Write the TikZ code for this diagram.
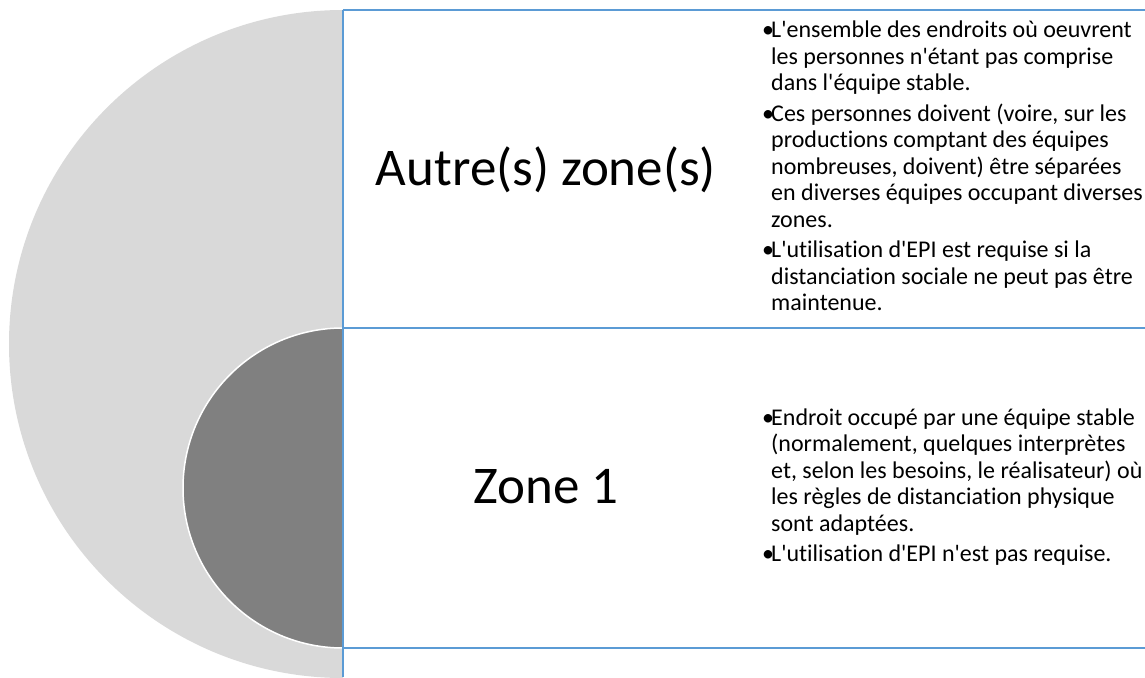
\documentclass[tikz,border=0pt]{standalone}
\usepackage{fontspec}
\setmainfont{Carlito}[Ligatures={TeXOff,CommonOff}]
\usepackage{tikz}
\usetikzlibrary{positioning, calc}
\usepackage{array}

\definecolor{zoneblue}{HTML}{5B9BD5}
\definecolor{zonelight}{HTML}{D9D9D9}
\definecolor{zonedark}{HTML}{808080}

\tikzset{
  zoneline/.style={draw=zoneblue, line width=2pt},
  zonetitle/.style={font=\fontsize{53}{64}\selectfont, inner sep=0pt},
  zonelist/.style={font=\fontsize{24}{26.5}\selectfont, inner sep=0pt, anchor=west}
}

\begin{document}
\begin{tikzpicture}[x=1pt, y=1pt]
  \useasboundingbox (0,0) rectangle (1145,677);

  % half discs
  \fill [zonelight] (343,667) arc [start angle=90, end angle=270, radius=334] -- cycle;
  \fill [zonedark] (343,349) arc [start angle=90, end angle=270, radius=160] -- cycle;
  \draw [white, line width=1.5pt] (343,349) arc [start angle=90, end angle=270, radius=160];

  % frame
  \coordinate (topL) at (343,667);
  \coordinate (midL) at (343,349);
  \coordinate (botL) at (343,29);
  \coordinate (endL) at (343,0);
  \draw [zoneline] (topL) -- (1146,667);
  \draw [zoneline] (midL) -- (1146,349);
  \draw [zoneline] (botL) -- (1146,29);
  \draw [zoneline] (topL) -- (endL);

  \node (autre) [zonetitle] at (546,507) {Autre(s) zone(s)};
  \node (zone1) [zonetitle] at (546,190) {Zone 1};

  \node (autretxt) [zonelist] at (762,508) {%
    \begin{tabular}{@{}p{9pt}@{}l@{}}
      • & L'ensemble des endroits où oeuvrent\\
        & les personnes n'étant pas comprise\\
        & dans l'équipe stable.\\[4pt]
      • & Ces personnes doivent (voire, sur les\\
        & productions comptant des équipes\\
        & nombreuses, doivent) être séparées\\
        & en diverses équipes occupant diverses\\
        & zones.\\[4pt]
      • & L'utilisation d'EPI est requise si la\\
        & distanciation sociale ne peut pas être\\
        & maintenue.
    \end{tabular}};

  \node (zone1txt) [zonelist] at (762,189) {%
    \begin{tabular}{@{}p{9pt}@{}l@{}}
      • & Endroit occupé par une équipe stable\\
        & (normalement, quelques interprètes\\
        & et, selon les besoins, le réalisateur) où\\
        & les règles de distanciation physique\\
        & sont adaptées.\\[4pt]
      • & L'utilisation d'EPI n'est pas requise.
    \end{tabular}};
\end{tikzpicture}
\end{document}
